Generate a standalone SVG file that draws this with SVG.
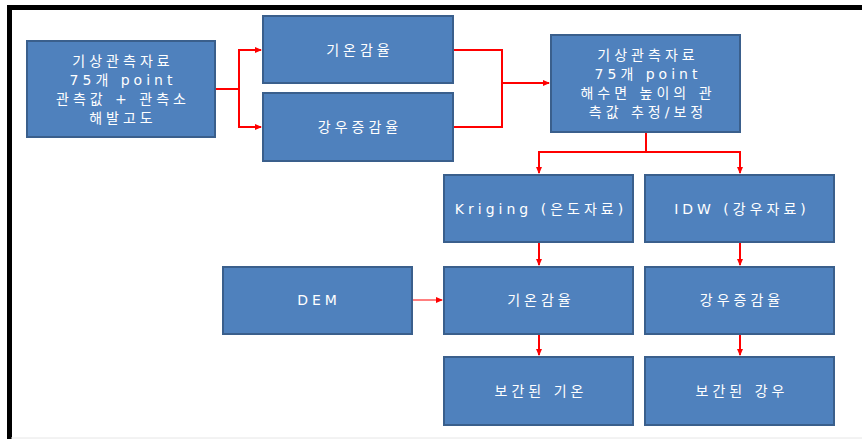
<svg xmlns="http://www.w3.org/2000/svg" width="862" height="439" viewBox="0 0 862 439">
<defs>
<style>
.box{fill:#4F81BD;stroke:#3A5F8C;stroke-width:2}
.t{fill:#ffffff;font-family:"DejaVu Sans","Noto Sans CJK KR",sans-serif;font-size:14px;letter-spacing:4px;text-anchor:middle;dominant-baseline:central}
.c{fill:none;stroke:#FF0000;stroke-width:2}
.thin{fill:none;stroke:#FF0000;stroke-width:1}
</style>
<marker id="ah" markerWidth="8" markerHeight="8" refX="6" refY="4" orient="auto" markerUnits="userSpaceOnUse">
<path d="M0,1 L7,4 L0,7 Z" fill="#FF0000"/>
</marker>
</defs>
<rect width="862" height="439" fill="#ffffff"/>
<path d="M9.5,439 V7.5 H862" fill="none" stroke="#000000" stroke-width="5"/>
<line x1="11" y1="438" x2="862" y2="438" stroke="#E6E6E6" stroke-width="1"/>
<g id="connectors">
<path class="c" d="M215,89 H239 V50 H261" marker-end="url(#ah)"/>
<path class="c" d="M239,89 V127 H261" marker-end="url(#ah)"/>
<path class="c" d="M453,50 H502 V127 H453"/>
<path class="c" d="M502,83 H549" marker-end="url(#ah)"/>
<path class="c" d="M646,132 V152 H539 V173" marker-end="url(#ah)"/>
<path class="c" d="M646,152 H740 V173" marker-end="url(#ah)"/>
<path class="c" d="M539,242 V265" marker-end="url(#ah)"/>
<path class="c" d="M740,242 V265" marker-end="url(#ah)"/>
<path class="c" d="M539,334 V355" marker-end="url(#ah)"/>
<path class="c" d="M740,334 V355" marker-end="url(#ah)"/>
<path class="thin" d="M412,300 H442" marker-end="url(#ah)"/>
</g>
<g id="n1">
<rect class="box" x="27" y="41" width="188" height="96"/>
<text class="t" x="123" y="60.5">기상관측자료</text>
<text class="t" x="123" y="79.5">75개 point</text>
<text class="t" x="123" y="98.5">관측값 + 관측소</text>
<text class="t" x="123" y="117.5">해발고도</text>
</g>
<g id="n2">
<rect class="box" x="263" y="16" width="190" height="67"/>
<text class="t" x="360" y="50">기온감율</text>
</g>
<g id="n3">
<rect class="box" x="263" y="93" width="190" height="68"/>
<text class="t" x="360" y="127">강우증감율</text>
</g>
<g id="n4">
<rect class="box" x="551" y="35" width="189" height="97"/>
<text class="t" x="648" y="55">기상관측자료</text>
<text class="t" x="648" y="74">75개 point</text>
<text class="t" x="648" y="93">해수면 높이의 관</text>
<text class="t" x="648" y="112">측값 추정/보정</text>
</g>
<g id="n5">
<rect class="box" x="444" y="175" width="189" height="67"/>
<text class="t" x="541" y="209">Kriging (은도자료)</text>
</g>
<g id="n6">
<rect class="box" x="645" y="175" width="189" height="67"/>
<text class="t" x="742" y="209">IDW (강우자료)</text>
</g>
<g id="n7">
<rect class="box" x="223" y="267" width="189" height="67"/>
<text class="t" x="319" y="300">DEM</text>
</g>
<g id="n8">
<rect class="box" x="444" y="267" width="189" height="67"/>
<text class="t" x="541" y="300">기온감율</text>
</g>
<g id="n9">
<rect class="box" x="645" y="267" width="189" height="67"/>
<text class="t" x="742" y="300">강우증감율</text>
</g>
<g id="n10">
<rect class="box" x="444" y="357" width="189" height="68"/>
<text class="t" x="541" y="391">보간된 기온</text>
</g>
<g id="n11">
<rect class="box" x="645" y="357" width="189" height="68"/>
<text class="t" x="742" y="391">보간된 강우</text>
</g>
</svg>
